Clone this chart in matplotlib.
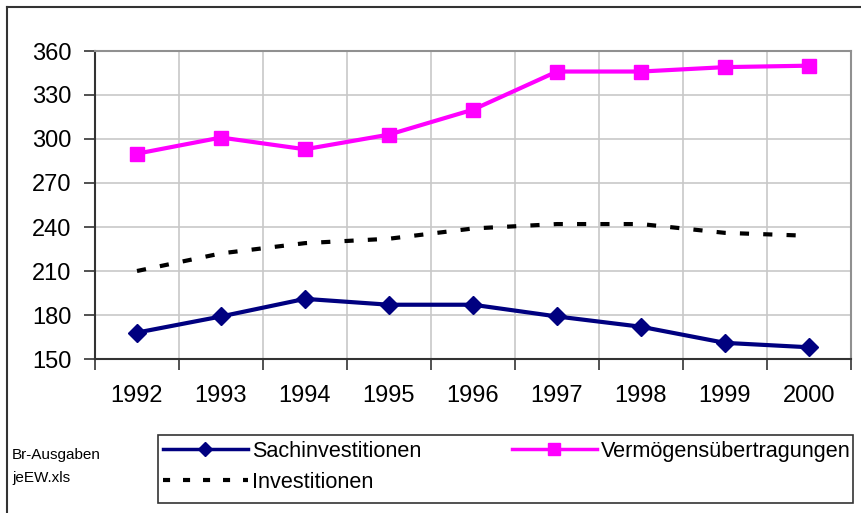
import numpy as np
import matplotlib.pyplot as plt
from matplotlib.lines import Line2D
from matplotlib.patches import Rectangle

plt.rcParams['font.family'] = ['Liberation Sans', 'DejaVu Sans']

#data
years = ['1992', '1993', '1994', '1995', '1996', '1997', '1998', '1999', '2000']
sach = [168, 179, 191, 187, 187, 179, 172, 161, 158]
verm = [290, 301, 293, 303, 320, 346, 346, 349, 350]
inv = [210, 222, 229, 232, 239, 242, 242, 236, 234]

x = np.arange(1, len(years) + 1)
W, H = 861, 513

fig = plt.figure(figsize=(8.61, 5.13), dpi=100)
ax = fig.add_axes([95/W, 1 - 359/H, (851 - 95)/W, (359 - 51)/H])

#outer chart border (only top and left visible)
fig.add_artist(Line2D([7/W, 7/W], [0, 1 - 7/H], color='#333333', lw=1.5))
fig.add_artist(Line2D([7/W, 1], [1 - 7/H, 1 - 7/H], color='#333333', lw=1.5))

l1, = ax.plot(x, sach, color='#000080', lw=3, marker='D', ms=9, label='Sachinvestitionen')
l2, = ax.plot(x, verm, color='#FF00FF', lw=3, marker='s', ms=10, label='Vermögensübertragungen')
l3, = ax.plot(x, inv, color='black', lw=3, ls=(0, (2.2, 3.4)), label='Investitionen')

ax.set_xlim(0.5, len(years) + 0.5)
ax.set_ylim(150, 360)
ax.set_yticks(np.arange(150, 361, 30))
ax.set_xticks(np.arange(0.5, len(years) + 1, 1))
ax.set_xticklabels([])
ax.set_xticks(x, minor=True)
ax.set_xticklabels(years, minor=True)
ax.tick_params(axis='x', which='minor', length=0, pad=19, labelsize=17)
ax.tick_params(axis='x', which='major', length=8, width=1.2, color='#333333')
ax.tick_params(axis='y', length=8, width=1.2, color='#333333', labelsize=17, pad=9)
ax.grid(True, which='major', color='#c8c8c8', lw=1.2)
ax.set_axisbelow(True)
for s in ['left', 'bottom']:
    ax.spines[s].set_color('#333333')
    ax.spines[s].set_linewidth(1.5)
for s in ['top', 'right']:
    ax.spines[s].set_color('#909090')
    ax.spines[s].set_linewidth(1.5)

#legend frame drawn by hand, two column legends inside it
fig.add_artist(Rectangle((158/W, 1 - 503/H), (853 - 158)/W, (503 - 435)/H,
                         transform=fig.transFigure, fill=False,
                         edgecolor='#333333', lw=1.2))
h1 = [Line2D([], [], color='#000080', lw=2.5, marker='D', ms=7),
      Line2D([], [], color='black', lw=3, ls=(0, (1.7, 3.1)))]
h2 = [Line2D([], [], color='#FF00FF', lw=2.5, marker='s', ms=8)]
common = dict(loc='upper left', fontsize=15.6, frameon=False, handlelength=3.9,
              handletextpad=0.2, borderpad=0, labelspacing=0.45, borderaxespad=0)
fig.legend(handles=h1, labels=['Sachinvestitionen', 'Investitionen'],
           bbox_to_anchor=(163/W, 1 - 441/H), **common)
fig.legend(handles=h2, labels=['Vermögensübertragungen'],
           bbox_to_anchor=(512/W, 1 - 441/H), **common)

fig.text(12/W, 1 - 455/H, 'Br-Ausgaben', fontsize=11, va='center')
fig.text(12/W, 1 - 478/H, 'jeEW.xls', fontsize=11, va='center')

plt.savefig('out.png', dpi=100)
